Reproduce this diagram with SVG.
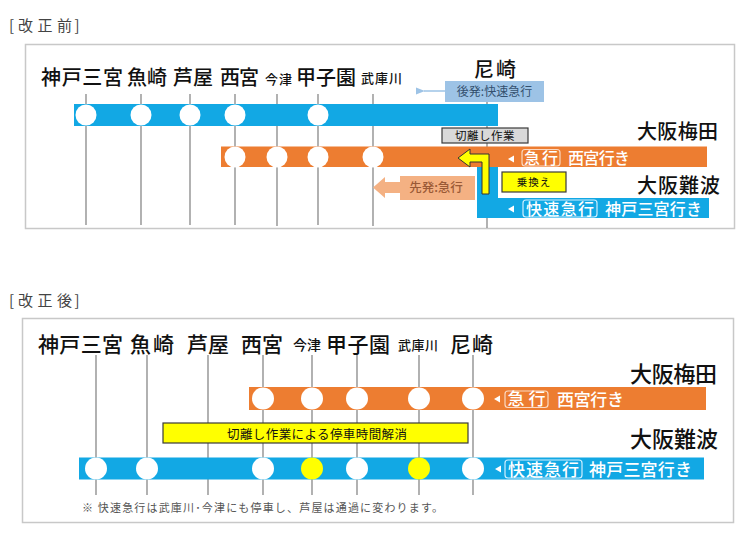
<svg xmlns="http://www.w3.org/2000/svg" width="743" height="535" viewBox="0 0 743 535">
<defs>
<style>
text{font-family:"Noto Sans CJK JP","Noto Sans",sans-serif;}
.hdr{font-size:15px;fill:#444;}
.st{font-size:20px;fill:#111;font-weight:500;}
.st2{font-size:21px;fill:#111;font-weight:500;}
.sm{font-size:13px;fill:#111;font-weight:500;}
.term{font-size:21px;fill:#111;font-weight:500;}
.vl{stroke:#7f7f7f;stroke-width:1.2;fill:none;}
.blue{fill:#12A8E4;}
.orange{fill:#ED7D31;}
.stop{fill:#fff;}
.ystop{fill:#FFFF00;}
.wt{fill:#fff;font-size:16px;font-weight:500;}
.tri{fill:#fff;}
.frame{fill:#fff;stroke:#c8c8c8;stroke-width:1.5;}
</style>
<marker id="ah" viewBox="0 0 10 10" refX="1" refY="5" markerWidth="6" markerHeight="6" orient="auto-start-reverse">
<path d="M10,1 L0,5 L10,9 z" fill="#9DC3E6"/>
</marker>
</defs>
<rect width="743" height="535" fill="#fff"/>

<!-- ===== BEFORE ===== -->
<text class="hdr" x="9 18 37.5 57 74.5" y="30.5">[改正前]</text>
<rect class="frame" x="25.5" y="44.5" width="709" height="184"/>

<g id="before-lines">
<path class="vl" d="M86 94V225M141 94V225M190 94V225M235 94V225M277 94V226M318 94V225M373 94V226M487 94V228"/>
</g>

<g id="before-labels">
<text class="st" x="41" y="85" textLength="82">神戸三宮</text>
<text class="st" x="127" y="85" textLength="40">魚崎</text>
<text class="st" x="173" y="85" textLength="40">芦屋</text>
<text class="st" x="220" y="85" textLength="39">西宮</text>
<text class="sm" x="265" y="84" textLength="27">今津</text>
<text class="st" x="296" y="85" textLength="60">甲子園</text>
<text class="sm" x="361" y="83" textLength="41">武庫川</text>
<text class="st" x="474" y="77" textLength="42">尼崎</text>
</g>

<g id="before-rapid-upper">
<rect class="blue" x="74" y="104" width="424" height="22"/>
<circle class="stop" cx="86" cy="115" r="10.5"/>
<circle class="stop" cx="141" cy="115" r="10.5"/>
<circle class="stop" cx="190" cy="115" r="10.5"/>
<circle class="stop" cx="235" cy="115" r="10.5"/>
<circle class="stop" cx="318" cy="115" r="10.5"/>
</g>

<g id="before-rapid-lower">
<path class="blue" d="M477 167H498V198H709V218H477Z"/>
<path class="tri" d="M508 209L514 205.5V212.5Z"/>
<rect x="523" y="200" width="74" height="17" rx="3" fill="none" stroke="#CFEFFF" stroke-width="1.2"/>
<text class="wt" x="526" y="214.5" textLength="68">快速急行</text>
<text class="wt" x="605" y="215" textLength="97">神戸三宮行き</text>
</g>

<g id="before-express">
<rect class="orange" x="221" y="146.5" width="486" height="20.5"/>
<circle class="stop" cx="235" cy="157" r="10.5"/>
<circle class="stop" cx="277" cy="157" r="10.5"/>
<circle class="stop" cx="318" cy="157" r="10.5"/>
<circle class="stop" cx="373" cy="157" r="10.5"/>
<path class="tri" d="M508 159L514 155.5V162.5Z"/>
<rect x="522" y="149.5" width="38" height="16.5" rx="3" fill="none" stroke="#FBD9C2" stroke-width="1.2"/>
<text class="wt" x="524" y="163.5" textLength="34">急行</text>
<text class="wt" x="568" y="164" textLength="62">西宮行き</text>
</g>

<g id="before-terminals">
<text class="term" x="637" y="139" textLength="81" style="font-size:20px">大阪梅田</text>
<text class="term" x="637" y="193" textLength="83" style="font-size:20px">大阪難波</text>
</g>

<g id="before-notes">
<rect x="445" y="81" width="99" height="21" fill="#9DC3E6"/>
<text x="494.5" y="96" text-anchor="middle" font-size="12" fill="#34506E">後発:快速急行</text>
<rect x="442" y="128" width="86" height="15" fill="#D9D9D9" stroke="#3a3a3a" stroke-width="1.2"/>
<text x="485" y="140" text-anchor="middle" font-size="11.5" fill="#111" letter-spacing="0.5">切離し作業</text>
<rect x="502" y="172" width="64" height="20" fill="#FFFF00" stroke="#3a3a3a" stroke-width="1.2"/>
<text x="534" y="186" text-anchor="middle" font-size="10.5" fill="#111" letter-spacing="1">乗換え</text>
<path d="M400 176H475V200H400V193H385V198L373 187.5L385 177V182H400Z" fill="#F4B183"/>
<text x="436" y="192" text-anchor="middle" font-size="12.5" fill="#9A5A36" font-weight="500">先発:急行</text>
</g>

<g id="connectors">
<line x1="445" y1="91" x2="424" y2="91" stroke="#9DC3E6" stroke-width="1.5" marker-end="url(#ah)"/>
<path d="M489 194H482V162H470V167L458 158L470 149V154H489Z" fill="#FFFF00" stroke="#333" stroke-width="1"/>
</g>

<!-- ===== AFTER ===== -->
<text class="hdr" x="9 18 37.5 57 74.5" y="306">[改正後]</text>
<rect class="frame" x="22.5" y="318.5" width="711" height="204"/>

<g id="after-lines">
<path class="vl" d="M96 355V495M147 355V495M208 355V495M263 355V495M312 355V495M357 355V495M419 355V495M473 355V495"/>
</g>

<g id="after-labels">
<text class="st2" x="38" y="352" textLength="85">神戸三宮</text>
<text class="st2" x="130" y="352" textLength="44">魚崎</text>
<text class="st2" x="187" y="352" textLength="42">芦屋</text>
<text class="st2" x="241" y="352" textLength="42">西宮</text>
<text class="sm" x="293" y="350" textLength="28" style="font-size:14px">今津</text>
<text class="st2" x="326" y="352" textLength="64">甲子園</text>
<text class="sm" x="398" y="350" textLength="40">武庫川</text>
<text class="st2" x="450" y="352" textLength="43">尼崎</text>
</g>

<g id="after-express">
<rect class="orange" x="249" y="387" width="457" height="23"/>
<circle class="stop" cx="263" cy="398.5" r="11"/>
<circle class="stop" cx="312" cy="398.5" r="11"/>
<circle class="stop" cx="357" cy="398.5" r="11"/>
<circle class="stop" cx="419" cy="398.5" r="11"/>
<circle class="stop" cx="473" cy="398.5" r="11"/>
<path class="tri" d="M494 399L500 395.5V402.5Z"/>
<rect x="505" y="391" width="43" height="16.5" rx="3" fill="none" stroke="#FBD9C2" stroke-width="1.2"/>
<text class="wt" x="507.5" y="405" textLength="38" style="font-size:17px">急行</text>
<text class="wt" x="557" y="406" textLength="67" style="font-size:17px">西宮行き</text>
</g>

<g id="after-notice">
<rect x="163" y="423" width="305" height="20" fill="#FFFF00" stroke="#3a3a3a" stroke-width="1.2"/>
<text x="227" y="438.5" textLength="180" font-size="12.5" fill="#111">切離し作業による停車時間解消</text>
</g>

<g id="after-rapid">
<rect class="blue" x="79" y="457.5" width="625" height="22"/>
<circle class="stop" cx="96" cy="468.5" r="11"/>
<circle class="stop" cx="147" cy="468.5" r="11"/>
<circle class="stop" cx="263" cy="468.5" r="11"/>
<circle class="ystop" cx="312" cy="468.5" r="11"/>
<circle class="stop" cx="357" cy="468.5" r="11"/>
<circle class="ystop" cx="419" cy="468.5" r="11"/>
<circle class="stop" cx="473" cy="468.5" r="11"/>
<path class="tri" d="M495 469L501 465.5V472.5Z"/>
<rect x="505" y="460" width="77" height="18" rx="3" fill="none" stroke="#CFEFFF" stroke-width="1.2"/>
<text class="wt" x="508" y="475.5" textLength="71" style="font-size:17px">快速急行</text>
<text class="wt" x="589" y="476" textLength="103" style="font-size:17px">神戸三宮行き</text>
</g>

<g id="after-terminals">
<text class="term" x="630" y="382" textLength="87" style="font-size:22px">大阪梅田</text>
<text class="term" x="630" y="447" textLength="88" style="font-size:22px">大阪難波</text>
</g>

<text x="82" y="512" textLength="361" font-size="11" fill="#555">※ 快速急行は武庫川･今津にも停車し、芦屋は通過に変わります。</text>
</svg>
